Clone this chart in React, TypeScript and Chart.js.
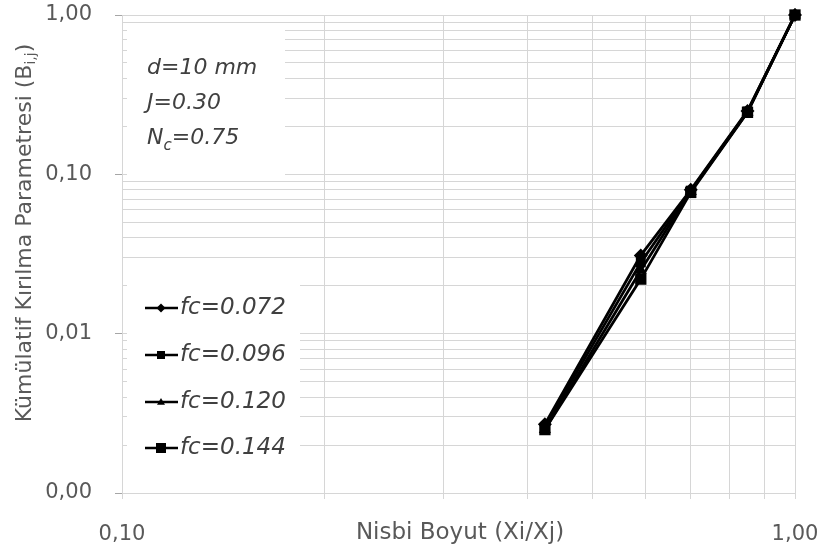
import React, { useEffect, useRef } from 'react';
import { Chart, registerables } from 'chart.js';

Chart.register(...registerables);

// ---- data ----
const relativeSize = [0.425, 0.59, 0.7, 0.85, 1.0];
const seriesLabels = ['fc=0.072', 'fc=0.096', 'fc=0.120', 'fc=0.144'];
const fc072 = [0.0027, 0.031, 0.08, 0.25, 1.0];
const fc096 = [0.0026, 0.028, 0.079, 0.248, 1.0];
const fc120 = [0.0025, 0.025, 0.078, 0.246, 1.0];
const fc144 = [0.0025, 0.022, 0.077, 0.245, 1.0];
const seriesMarkers = ['rectRot', 'rect', 'triangle', 'rect'];
const seriesMarkerSizes = [7, 7, 7, 8];
const xTickValues = [0.1, 0.2, 0.3, 0.4, 0.5, 0.6, 0.7, 0.8, 0.9, 1.0];
const yTickValues = [
  0.001, 0.002, 0.003, 0.004, 0.005, 0.006, 0.007, 0.008, 0.009,
  0.01, 0.02, 0.03, 0.04, 0.05, 0.06, 0.07, 0.08, 0.09,
  0.1, 0.2, 0.3, 0.4, 0.5, 0.6, 0.7, 0.8, 0.9, 1.0,
];
const xTitle = 'Nisbi Boyut (Xi/Xj)';
const yTitleMain = 'Kümülatif Kırılma Parametresi (B';
const yTitleSub = 'i,j';
const yTitleEnd = ')';
const infoLines = ['d=10 mm', 'J=0.30'];
const infoNcMain = 'N';
const infoNcSub = 'c';
const infoNcRest = '=0.75';

const FONT = '"DejaVu Sans", sans-serif';
const GRID = '#d6d6d6';
const TICK_TEXT = '#595959';
const TEXT = '#404040';

const isDecade = (v: number) => Math.abs(Math.log10(v) - Math.round(Math.log10(v))) < 1e-9;
const fmt = (v: number) => v.toFixed(2).replace('.', ',');

function drawMarker(ctx: CanvasRenderingContext2D, style: string, x: number, y: number, r: number) {
  ctx.beginPath();
  if (style === 'rectRot') {
    ctx.moveTo(x, y - r);
    ctx.lineTo(x + r, y);
    ctx.lineTo(x, y + r);
    ctx.lineTo(x - r, y);
    ctx.closePath();
  } else if (style === 'rect') {
    ctx.rect(x - r, y - r, 2 * r, 2 * r);
  } else if (style === 'triangle') {
    ctx.moveTo(x, y - r);
    ctx.lineTo(x + r, y + r * 0.7);
    ctx.lineTo(x - r, y + r * 0.7);
    ctx.closePath();
  }
  ctx.fill();
}

const zeroPadding = (s: any) => {
  s.paddingTop = 0;
  s.paddingBottom = 0;
  s.paddingLeft = 0;
  s.paddingRight = 0;
};

const overlayPlugin = {
  id: 'overlay',
  beforeDatasetsDraw(chart: any) {
    const ctx: CanvasRenderingContext2D = chart.ctx;
    ctx.save();
    // white boxes
    ctx.fillStyle = '#ffffff';
    ctx.fillRect(127, 26, 158, 152);
    ctx.fillRect(127, 265, 173, 210);

    // info text
    ctx.fillStyle = TEXT;
    ctx.textBaseline = 'middle';
    ctx.textAlign = 'left';
    ctx.font = `italic 22px ${FONT}`;
    ctx.fillText(infoLines[0], 147, 68);
    ctx.fillText(infoLines[1], 147, 103);
    let x = 147;
    ctx.fillText(infoNcMain, x, 138);
    x += ctx.measureText(infoNcMain).width;
    ctx.font = `italic 15px ${FONT}`;
    ctx.fillText(infoNcSub, x, 146);
    x += ctx.measureText(infoNcSub).width;
    ctx.font = `italic 22px ${FONT}`;
    ctx.fillText(infoNcRest, x, 138);

    // legend
    const ys = [308, 355, 402, 448];
    seriesLabels.forEach((lab, i) => {
      const y = ys[i];
      ctx.strokeStyle = '#000';
      ctx.lineWidth = 2.5;
      ctx.beginPath();
      ctx.moveTo(145, y);
      ctx.lineTo(178, y);
      ctx.stroke();
      ctx.fillStyle = '#000';
      drawMarker(ctx, seriesMarkers[i], 161, y, i === 0 ? 4.5 : i === 3 ? 5 : 4);
      ctx.fillStyle = TEXT;
      ctx.font = `italic 23px ${FONT}`;
      ctx.fillText(lab, 180, y);
    });
    ctx.restore();
  },
  afterDraw(chart: any) {
    const ctx: CanvasRenderingContext2D = chart.ctx;
    ctx.save();
    ctx.fillStyle = TICK_TEXT;
    ctx.textBaseline = 'middle';
    // x title
    ctx.font = `23px ${FONT}`;
    ctx.textAlign = 'center';
    ctx.fillText(xTitle, 460, 533);
    // y title
    ctx.translate(25, 233);
    ctx.rotate(-Math.PI / 2);
    ctx.font = `22px ${FONT}`;
    const w1 = ctx.measureText(yTitleMain).width;
    const w3 = ctx.measureText(yTitleEnd).width;
    ctx.font = `14px ${FONT}`;
    const w2 = ctx.measureText(yTitleSub).width;
    const total = w1 + w2 + w3;
    let x = -total / 2;
    ctx.textAlign = 'left';
    ctx.font = `22px ${FONT}`;
    ctx.fillText(yTitleMain, x, 0);
    x += w1;
    ctx.font = `14px ${FONT}`;
    ctx.fillText(yTitleSub, x, 6);
    x += w2;
    ctx.font = `22px ${FONT}`;
    ctx.fillText(yTitleEnd, x, 0);
    ctx.restore();
  },
};

export default function App() {
  const ref = useRef<HTMLCanvasElement | null>(null);

  useEffect(() => {
    document.body.style.margin = '0';
    const canvas = ref.current;
    if (!canvas) return;
    const series = [fc072, fc096, fc120, fc144];
    const chart = new Chart(canvas, {
      type: 'line',
      data: {
        datasets: series.map((vals, i) => ({
          label: seriesLabels[i],
          data: relativeSize.map((xv, j) => ({ x: xv, y: vals[j] })),
          borderColor: '#000',
          backgroundColor: '#000',
          borderWidth: 2.8,
          pointStyle: seriesMarkers[i] as any,
          pointRadius: seriesMarkerSizes[i],
          pointBackgroundColor: '#000',
          pointBorderColor: '#000',
          pointBorderWidth: 0,
          tension: 0,
          fill: false,
          clip: false,
        })),
      },
      options: {
        animation: false,
        responsive: false,
        devicePixelRatio: 1,
        layout: { autoPadding: false, padding: { top: 15, right: 26, left: 0, bottom: 0 } },
        plugins: {
          legend: { display: false },
          tooltip: { enabled: false },
        },
        scales: {
          x: {
            type: 'logarithmic',
            min: 0.1,
            max: 1.0,
            afterBuildTicks: (s: any) => {
              s.ticks = xTickValues.map((v) => ({ value: v }));
            },
            afterFit: (s: any) => {
              s.height = 61;
              zeroPadding(s);
            },
            ticks: {
              autoSkip: false,
              maxRotation: 0,
              padding: 23,
              color: TICK_TEXT,
              font: { family: FONT, size: 21 },
              callback: (v: any) => (isDecade(Number(v)) ? fmt(Number(v)) : ''),
            },
            grid: {
              color: GRID,
              lineWidth: 1,
              drawTicks: true,
              tickLength: 6,
              tickColor: GRID,
            },
            border: { color: GRID },
          },
          y: {
            type: 'logarithmic',
            min: 0.001,
            max: 1.0,
            afterBuildTicks: (s: any) => {
              s.ticks = yTickValues.map((v) => ({ value: v }));
            },
            afterFit: (s: any) => {
              s.width = 122;
              zeroPadding(s);
            },
            ticks: {
              autoSkip: false,
              padding: 23,
              color: TICK_TEXT,
              font: { family: FONT, size: 21 },
              callback: (v: any) => (isDecade(Number(v)) ? fmt(Number(v)) : ''),
            },
            grid: {
              color: GRID,
              lineWidth: 1,
              drawTicks: true,
              tickLength: 7,
              tickColor: (c: any) => (c.tick && isDecade(c.tick.value) ? '#a6a6a6' : 'rgba(0,0,0,0)'),
            },
            border: { color: GRID },
          },
        },
      },
      plugins: [overlayPlugin],
    } as any);
    return () => chart.destroy();
  }, []);

  return (
    <div style={{ width: 821, height: 554, background: '#fff' }}>
      <canvas ref={ref} width={821} height={554} />
    </div>
  );
}
